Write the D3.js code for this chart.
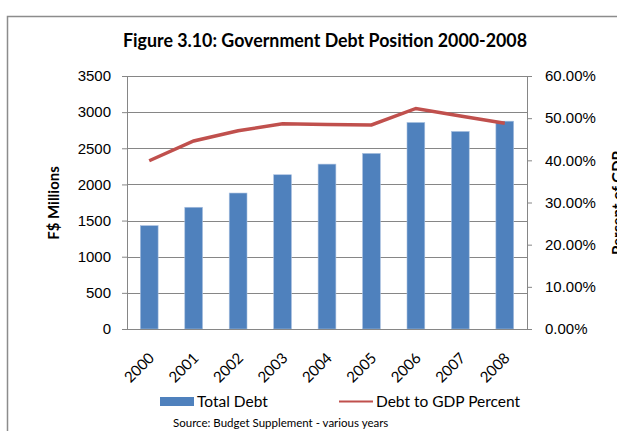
<!DOCTYPE html>
<html>
<head>
<meta charset="utf-8">
<script src="https://cdn.jsdelivr.net/npm/d3@7"></script>
<style>
  body { margin: 0; background: #fff; }
  svg { display: block; font-family: Lato, 'Open Sans', sans-serif; }
</style>
</head>
<body>
<svg id="chart" width="617" height="431"></svg>
<script>
// data
var years = ['2000', '2001', '2002', '2003', '2004', '2005', '2006', '2007', '2008']
var totalDebt = [1430, 1684, 1881, 2134, 2281, 2429, 2857, 2733, 2875]
var debtToGdp = [0.399, 0.446, 0.470, 0.487, 0.485, 0.484, 0.523, 0.505, 0.488]
var leftTicks = [0, 500, 1000, 1500, 2000, 2500, 3000, 3500]
var rightTicks = [0, 0.1, 0.2, 0.3, 0.4, 0.5, 0.6]

var margin = { top: 76, right: 90, bottom: 102, left: 127 }
var svg = d3.select('#chart')
var width = 617 - margin.left - margin.right
var height = 431 - margin.top - margin.bottom
var grey = '#868686'

// chart frame
svg.append('path')
  .attr('d', 'M7.5,431 L7.5,16.5 L617,16.5')
  .attr('fill', 'none')
  .attr('stroke', '#8c8c8c')
  .attr('stroke-width', 1.5)

svg.append('text')
  .attr('x', 325)
  .attr('y', 47)
  .attr('text-anchor', 'middle')
  .attr('font-weight', 'bold')
  .attr('font-size', 19)
  .attr('textLength', 404)
  .attr('lengthAdjust', 'spacingAndGlyphs')
  .text('Figure 3.10: Government Debt Position 2000-2008')

var g = svg.append('g').attr('transform', 'translate(' + margin.left + ',' + margin.top + ')')

var x = d3.scaleBand().domain(years).range([0, width]).paddingInner(0.6).paddingOuter(0.3)
var y = d3.scaleLinear().domain([0, 3500]).range([height, 0])
var y2 = d3.scaleLinear().domain([0, 0.6]).range([height, 0])

// gridlines
g.append('g')
  .selectAll('line')
  .data(leftTicks.slice(1))
  .enter()
  .append('line')
  .attr('x1', 0)
  .attr('x2', width)
  .attr('y1', d => Math.round(y(d)) + 0.5)
  .attr('y2', d => Math.round(y(d)) + 0.5)
  .attr('stroke', grey)

// bars
g.append('g')
  .selectAll('rect')
  .data(totalDebt)
  .enter()
  .append('rect')
  .attr('x', (d, i) => x(years[i]))
  .attr('y', d => y(d))
  .attr('width', x.bandwidth())
  .attr('height', d => height - y(d))
  .attr('fill', '#4f81bd')
  .attr('stroke', '#a9c1e0')
  .attr('stroke-width', 0.6)

// left axis
var leftAxis = g.append('g')
  .call(d3.axisLeft(y).tickValues(leftTicks).tickSize(5).tickPadding(11).tickFormat(d3.format('d')))
leftAxis.selectAll('line, path').attr('stroke', grey)
leftAxis.selectAll('text').attr('font-size', 15).attr('fill', '#000')
leftAxis.select('.domain').attr('d', 'M0.5,0V' + height)

// right axis
var rightAxis = g.append('g')
  .attr('transform', 'translate(' + width + ',0)')
  .call(d3.axisRight(y2).tickValues(rightTicks).tickSize(5).tickPadding(13).tickFormat(d3.format('.2%')))
rightAxis.selectAll('line, path').attr('stroke', grey)
rightAxis.selectAll('text').attr('font-size', 15).attr('fill', '#000')
rightAxis.select('.domain').attr('d', 'M0.5,0V' + height)

// bottom axis
var bottom = g.append('g').attr('transform', 'translate(0,' + height + ')')
bottom.append('line')
  .attr('x1', 0).attr('x2', width)
  .attr('y1', 0.5).attr('y2', 0.5)
  .attr('stroke', grey)
bottom.selectAll('text')
  .data(years)
  .enter()
  .append('text')
  .attr('transform', d => 'translate(' + (x(d) + x.bandwidth() / 2 + 6) + ',30) rotate(-45)')
  .attr('text-anchor', 'end')
  .attr('font-size', 15)
  .text(d => d)

// debt to GDP line
var line = d3.line()
  .x((d, i) => x(years[i]) + x.bandwidth() / 2)
  .y(d => y2(d))
g.append('path')
  .datum(debtToGdp)
  .attr('d', line)
  .attr('fill', 'none')
  .attr('stroke', '#c0504d')
  .attr('stroke-width', 3.5)

// axis titles
svg.append('text')
  .attr('transform', 'translate(59,203) rotate(-90)')
  .attr('text-anchor', 'middle')
  .attr('font-weight', 'bold')
  .attr('font-size', 15)
  .text('F$ Millions')
svg.append('text')
  .attr('transform', 'translate(623,203) rotate(-90)')
  .attr('text-anchor', 'middle')
  .attr('font-weight', 'bold')
  .attr('font-size', 15)
  .text('Percent of GDP')

// legend
var legend = svg.append('g')
legend.append('rect')
  .attr('x', 160).attr('y', 397)
  .attr('width', 34).attr('height', 9)
  .attr('fill', '#4f81bd')
legend.append('text')
  .attr('x', 197).attr('y', 407)
  .attr('font-size', 15.5)
  .text('Total Debt')
legend.append('line')
  .attr('x1', 339).attr('x2', 373)
  .attr('y1', 401.5).attr('y2', 401.5)
  .attr('stroke', '#c0504d')
  .attr('stroke-width', 2)
legend.append('text')
  .attr('x', 376).attr('y', 407)
  .attr('font-size', 15.5)
  .text('Debt to GDP Percent')

svg.append('text')
  .attr('x', 173).attr('y', 427)
  .attr('font-size', 11.5)
  .text('Source: Budget Supplement - various years')
</script>
</body>
</html>
